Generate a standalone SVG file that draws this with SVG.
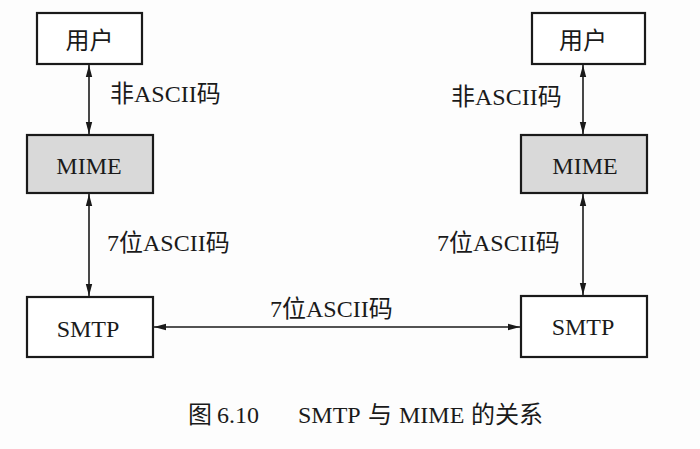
<svg xmlns="http://www.w3.org/2000/svg" width="700" height="449" viewBox="0 0 700 449">
  <defs>
    <style>
      .box { fill: #ffffff; stroke: #1a1a1a; stroke-width: 2.2; }
      .box.mime { fill: #d9d9d9; }
      .node-label { font-family: "Liberation Serif", "Noto Sans CJK SC", serif; font-size: 24px; fill: #1a1a1a; text-anchor: middle; }
      .edge-label { font-family: "Liberation Serif", "Noto Sans CJK SC", serif; font-size: 24px; fill: #1a1a1a; }
      .link { stroke: #1a1a1a; stroke-width: 1.6; fill: none; marker-start: url(#head); marker-end: url(#head); }
      .caption { font-family: "Liberation Serif", "Noto Sans CJK SC", serif; font-size: 24px; fill: #1a1a1a; }
    </style>
    <marker id="head" viewBox="0 0 12 8" refX="12" refY="4" markerWidth="12" markerHeight="8" markerUnits="userSpaceOnUse" orient="auto-start-reverse">
      <path d="M0,0.8 L12,4 L0,7.2 Z" fill="#1a1a1a"/>
    </marker>
  </defs>

  <rect width="700" height="449" fill="#fdfdfd"/>

  <!-- left stack -->
  <g id="user-left">
    <rect class="box" x="37" y="13" width="105" height="51"/>
    <text class="node-label" x="89.5" y="49" font-size="22">用户</text>
  </g>
  <g id="mime-left">
    <rect class="box mime" x="27" y="135" width="126" height="58"/>
    <text class="node-label" x="89" y="174">MIME</text>
  </g>
  <g id="smtp-left">
    <rect class="box" x="27" y="297" width="126" height="60"/>
    <text class="node-label" x="88" y="337">SMTP</text>
  </g>

  <!-- right stack -->
  <g id="user-right">
    <rect class="box" x="532" y="13" width="113" height="51"/>
    <text class="node-label" x="583" y="49" font-size="22">用户</text>
  </g>
  <g id="mime-right">
    <rect class="box mime" x="521" y="135" width="126" height="58"/>
    <text class="node-label" x="585" y="174">MIME</text>
  </g>
  <g id="smtp-right">
    <rect class="box" x="521" y="296" width="126" height="61"/>
    <text class="node-label" x="583" y="335">SMTP</text>
  </g>

  <!-- connectors -->
  <g id="connectors">
    <line class="link" x1="89" y1="65" x2="89" y2="134"/>
    <line class="link" x1="89" y1="194" x2="89" y2="296"/>
    <line class="link" x1="583" y1="65" x2="583" y2="134"/>
    <line class="link" x1="583" y1="194" x2="583" y2="295"/>
    <line class="link" x1="154" y1="327" x2="520" y2="327"/>
  </g>

  <!-- connector labels -->
  <g id="labels">
    <text class="edge-label" x="110" y="102">非ASCII码</text>
    <text class="edge-label" x="451" y="105">非ASCII码</text>
    <text class="edge-label" x="107" y="251">7位ASCII码</text>
    <text class="edge-label" x="437" y="251">7位ASCII码</text>
    <text class="edge-label" x="270" y="317">7位ASCII码</text>
  </g>

  <text class="caption" y="423"><tspan x="188">图</tspan><tspan x="217">6.10</tspan><tspan x="298">SMTP</tspan><tspan x="368">与</tspan><tspan x="399">MIME</tspan><tspan x="471">的关系</tspan></text>
</svg>
